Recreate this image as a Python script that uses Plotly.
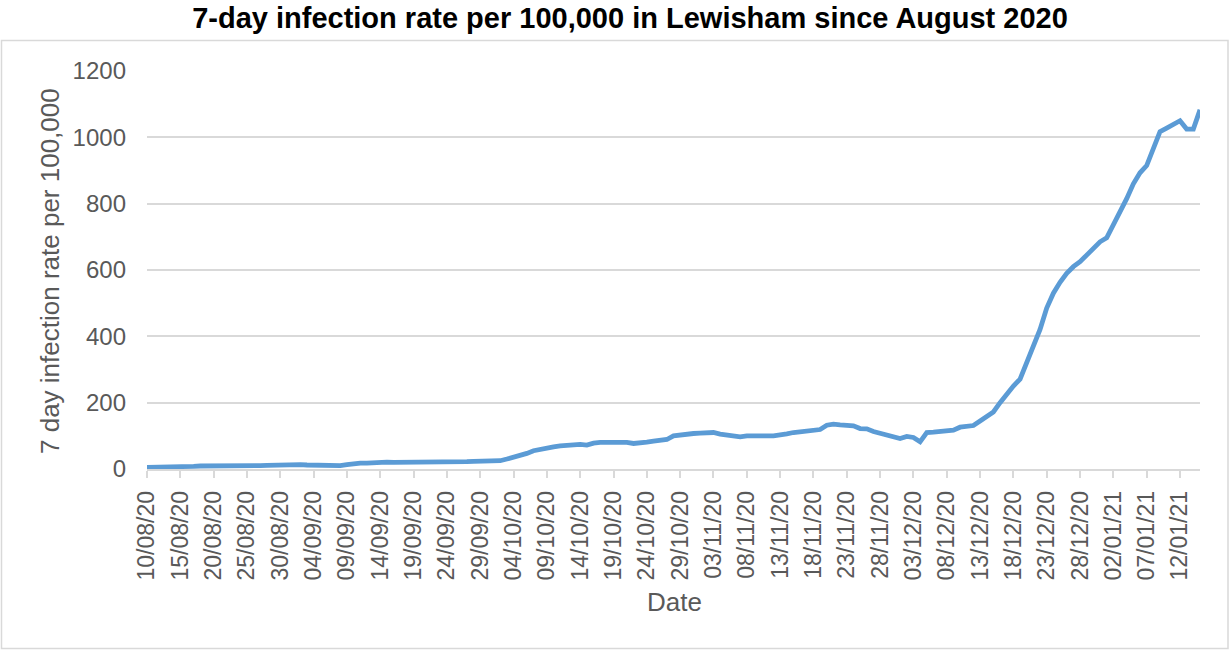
import datetime as dt
import plotly.graph_objects as go

start_date = "2020-08-10"
rates = [
    5, 5, 6, 6, 7, 8, 8, 8, 9, 9,
    8, 7, 7, 7, 8, 8, 9, 10, 11, 12,
    12, 13, 13, 13, 12, 12, 11, 10, 9, 10,
    13, 16, 18, 18, 20, 22, 21, 20, 20, 20,
    20, 20, 20, 19, 19, 19, 19, 21, 22, 23,
    24, 24, 25, 25, 30, 35, 40, 47, 55, 60,
    64, 67, 70, 72, 74, 74, 72, 78, 80, 80,
    81, 83, 80, 77, 78, 81, 84, 87, 89, 100,
    103, 105, 107, 108, 109, 110, 105, 103, 99, 97,
    100, 101, 101, 100, 100, 102, 106, 110, 113, 116,
    118, 119, 132, 135, 133, 131, 130, 122, 121, 113,
    107, 101, 96, 92, 98, 95, 82, 110, 111, 113,
    114, 117, 126, 129, 131, 145, 158, 172, 200, 228,
    250, 271, 320, 370, 421, 485, 530, 563, 590, 610,
    625, 645, 665, 685, 697, 735, 775, 815, 860, 893,
    915, 965, 1017, 1028, 1040, 1050, 1025, 1025, 1083,
]

d0 = dt.date.fromisoformat(start_date)
dates = [d0 + dt.timedelta(days=i) for i in range(len(rates))]
tick_dates = dates[::5]
tick_text = [d.strftime("%d/%m/%y") for d in tick_dates]
y_ticks = [0, 200, 400, 600, 800, 1000, 1200]

grey = "#595959"
grid = "#d9d9d9"

fig = go.Figure()
fig.add_trace(go.Scatter(
    x=dates, y=rates, mode="lines",
    line=dict(color="#5b9bd5", width=4.8),
    hoverinfo="skip", showlegend=False,
))

L, R, T, B = 147, 30, 71, 181
W, H = 1230, 650
pw, ph = W - L - R, H - T - B

def px_x(px):
    return (px - L) / pw

def px_y(py):
    return (H - B - py) / ph

fig.update_layout(
    width=W, height=H,
    margin=dict(l=L, r=R, t=T, b=B),
    paper_bgcolor="white", plot_bgcolor="white",
    font=dict(family="Liberation Sans, Arial, sans-serif", color=grey),
    title=dict(
        text="<b>7-day infection rate per 100,000 in Lewisham since August 2020</b>",
        x=630 / W, xanchor="center", y=1 - 18 / H, yanchor="middle",
        font=dict(size=29, color="#000000"),
    ),
    xaxis=dict(
        type="date",
        range=[dates[0], dates[-1]],
        tickmode="array", tickvals=tick_dates, ticktext=tick_text,
        tickangle=-90, tickfont=dict(size=23, color=grey),
        ticks="outside", ticklen=7, tickcolor=grid, tickwidth=1.5,
        ticklabelstandoff=4,
        showgrid=False, showline=True, linecolor=grid, linewidth=1.5,
        zeroline=False,
    ),
    yaxis=dict(
        range=[0, 1200], tickmode="array", tickvals=y_ticks,
        tickfont=dict(size=24, color=grey),
        showgrid=True, gridcolor=grid, gridwidth=1.5,
        zeroline=False, showline=False, ticks="", ticklabelstandoff=20,
    ),
    shapes=[dict(
        type="rect", xref="paper", yref="paper",
        x0=px_x(1.5), x1=px_x(1228), y0=px_y(648.5), y1=px_y(40.5),
        line=dict(color=grid, width=1.5), fillcolor="rgba(0,0,0,0)", layer="below",
    )],
    annotations=[
        dict(text="7 day infection rate per 100,000", xref="paper", yref="paper",
             x=px_x(50), y=px_y(271), textangle=-90, showarrow=False,
             xanchor="center", yanchor="middle", font=dict(size=26, color=grey)),
        dict(text="Date", xref="paper", yref="paper",
             x=px_x(674), y=px_y(602), showarrow=False,
             xanchor="center", yanchor="middle", font=dict(size=26, color=grey)),
    ],
)

fig.write_html("out.html", config={"displayModeBar": False},
               post_script="document.body.style.margin='0';")
